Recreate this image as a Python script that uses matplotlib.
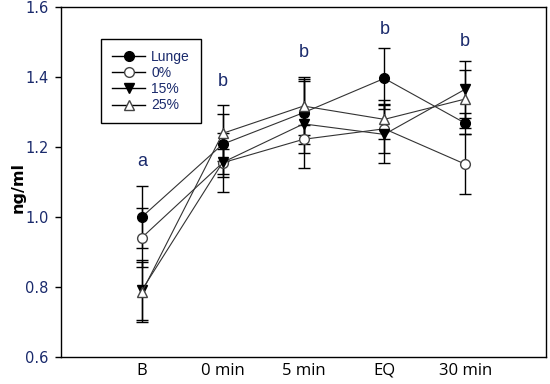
import matplotlib
matplotlib.use("Agg")
import matplotlib.pyplot as plt
from matplotlib.lines import Line2D

categories = ["B", "0 min", "5 min", "EQ", "30 min"]
lunge = [1.00, 1.208, 1.298, 1.396, 1.268]
lunge_err = [0.088, 0.085, 0.09, 0.086, 0.03]
p0 = [0.941, 1.155, 1.222, 1.252, 1.151]
p0_err = [0.085, 0.04, 0.04, 0.07, 0.085]
p15 = [0.791, 1.156, 1.266, 1.236, 1.365]
p15_err = [0.085, 0.084, 0.127, 0.083, 0.082]
p25 = [0.785, 1.239, 1.317, 1.279, 1.337]
p25_err = [0.086, 0.08, 0.083, 0.055, 0.083]
letters = ["a", "b", "b", "b", "b"]
letter_y = [1.16, 1.386, 1.469, 1.535, 1.50]
yticks = [0.6, 0.8, 1.0, 1.2, 1.4, 1.6]

navy = "#1a2a6c"
fig = plt.figure(figsize=(5.5, 3.84), dpi=100)
ax = fig.add_axes([61/550, 1 - 357/384, (546-61)/550, (357-7)/384])
x = list(range(len(categories)))

series = [
    (lunge, lunge_err, "o", "black", "Lunge"),
    (p0, p0_err, "o", "white", "0%"),
    (p15, p15_err, "v", "black", "15%"),
    (p25, p25_err, "^", "white", "25%"),
]
for vals, err, m, fc, lab in series:
    ax.errorbar(x, vals, yerr=err, fmt="none", ecolor="black", elinewidth=1.0,
                capsize=4, capthick=1.0, zorder=2)
for vals, err, m, fc, lab in series:
    ax.plot(x, vals, color="#333333", lw=0.8, marker=m, markersize=7,
            markerfacecolor=fc, markeredgecolor="black" if fc == "black" else "#444444",
            markeredgewidth=1.0, zorder=3, label=lab)

for xi, (t, ty) in enumerate(zip(letters, letter_y)):
    ax.text(xi, ty, t, ha="center", va="center", fontsize=13, color=navy,
            family="Liberation Sans")

ax.set_xlim(-1, 5)
ax.set_ylim(0.6, 1.6)
ax.set_xticks(x)
ax.set_xticklabels(categories, fontsize=12, family="Open Sans", color="black")
ax.tick_params(axis="x", length=0, pad=4)
ax.set_yticks(yticks)
ax.set_yticklabels([f"{v:.1f}" for v in yticks], fontsize=10.5, color=navy,
                   family="DejaVu Sans")
ax.tick_params(axis="y", direction="out", length=4, width=1, pad=5)
fig.text(18/550, 1 - 187/384, "ng/ml", rotation=90, ha="center", va="center",
         fontsize=11.5, fontweight="bold")
for s in ax.spines.values():
    s.set_linewidth(1.0)
    s.set_color("black")

handles = [
    Line2D([], [], color="black", lw=1, marker="o", markersize=7, markerfacecolor="black", markeredgecolor="black"),
    Line2D([], [], color="black", lw=1, marker="o", markersize=7, markerfacecolor="white", markeredgecolor="#444444"),
    Line2D([], [], color="black", lw=1, marker="v", markersize=7, markerfacecolor="black", markeredgecolor="black"),
    Line2D([], [], color="black", lw=1, marker="^", markersize=7, markerfacecolor="white", markeredgecolor="#444444"),
]
leg = ax.legend(handles, ["Lunge", "0%", "15%", "25%"], loc="upper left",
                bbox_to_anchor=((101-61)/485, (357-39)/350), fancybox=False,
                framealpha=1, edgecolor="black", handlelength=2.4,
                labelspacing=0.15, borderpad=0.8, handletextpad=0.4,
                borderaxespad=0,
                prop={"family": "Liberation Sans", "size": 10})
leg.get_frame().set_linewidth(1.0)
for t in leg.get_texts():
    t.set_color(navy)

fig.savefig("out.png", dpi=100)
